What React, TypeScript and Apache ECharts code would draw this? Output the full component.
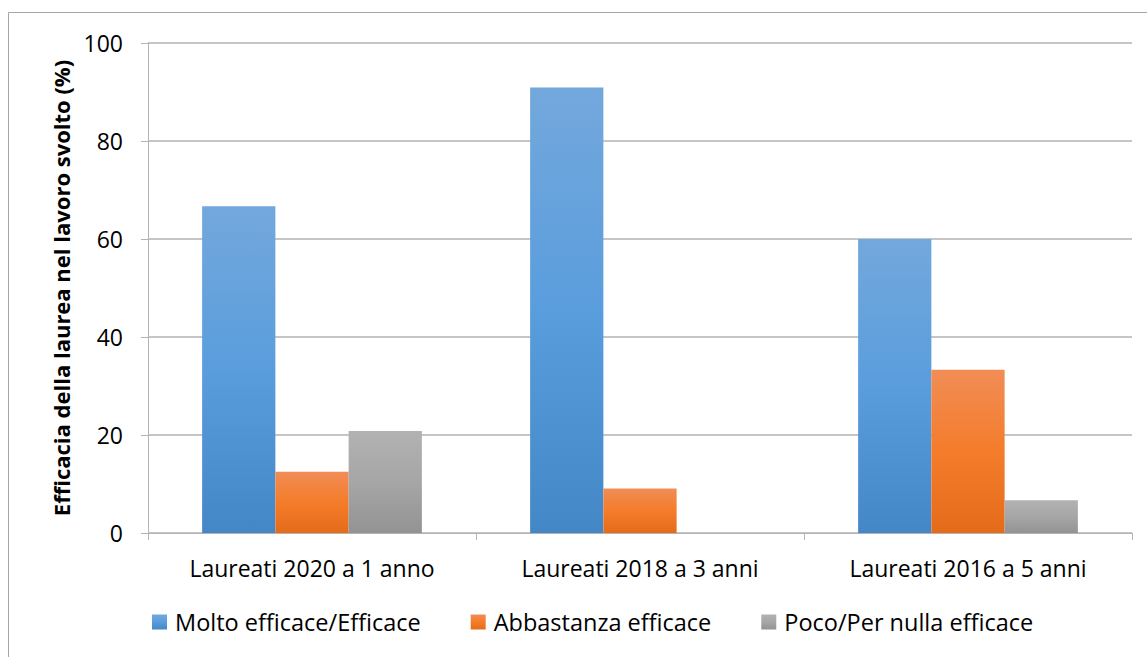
import React, { useEffect, useRef } from "react";
import * as echarts from "echarts";

const categories = ["Laureati 2020 a 1 anno", "Laureati 2018 a 3 anni", "Laureati 2016 a 5 anni"];
const seriesNames = ["Molto efficace/Efficace", "Abbastanza efficace", "Poco/Per nulla efficace"];
const moltoEfficace = [66.7, 90.9, 60.0];
const abbastanzaEfficace = [12.5, 9.1, 33.3];
const pocoEfficace = [20.8, 0, 6.7];
const yTicks = { min: 0, max: 100, interval: 20 };
const yAxisTitle = "Efficacia della laurea nel lavoro svolto (%)";

const FONT = "'Open Sans', sans-serif";

function grad(top: string, mid: string, bottom: string) {
  return new echarts.graphic.LinearGradient(0, 0, 0, 1, [
    { offset: 0, color: top },
    { offset: 0.5, color: mid },
    { offset: 1, color: bottom },
  ]);
}

export default function App() {
  const ref = useRef<HTMLDivElement>(null);
  useEffect(() => {
    if (!ref.current) return;
    const chart = echarts.init(ref.current, null, { renderer: "svg" });
    const gridColor = "#b3b3b3";
    const legendColors = [
      grad("#73a8dc", "#5a9ddd", "#4487c6"),
      grad("#f18d56", "#f47c2a", "#e46b19"),
      grad("#b2b2b2", "#a6a6a6", "#939393"),
    ];
    const values = [moltoEfficace, abbastanzaEfficace, pocoEfficace];
    chart.setOption({
      animation: false,
      backgroundColor: "#ffffff",
      textStyle: { fontFamily: FONT },
      graphic: [
        {
          type: "rect",
          shape: { x: 8.5, y: 12.5, width: 1160, height: 660 },
          style: { fill: "none", stroke: "#a6a6a6", lineWidth: 1 },
          silent: true,
          z: -1,
        },
      ],
      grid: { left: 148, right: 15, top: 43, bottom: 124, containLabel: false },
      legend: {
        left: 147,
        top: 605,
        itemWidth: 15,
        itemHeight: 15,
        itemGap: 50,
        icon: "rect",
        data: seriesNames,
        textStyle: { fontFamily: FONT, fontSize: 23.5, color: "#000000", padding: [0, 0, 0, 3] },
      },
      xAxis: {
        type: "category",
        data: categories,
        axisLine: { show: true, lineStyle: { color: gridColor, width: 1 } },
        axisTick: { show: true, alignWithLabel: false, interval: 0, length: 7, lineStyle: { color: gridColor } },
        axisLabel: { margin: 23, fontFamily: FONT, fontSize: 23, color: "#000000", interval: 0 },
        splitLine: { show: false },
      },
      yAxis: {
        type: "value",
        min: yTicks.min,
        max: yTicks.max,
        interval: yTicks.interval,
        name: yAxisTitle,
        nameLocation: "middle",
        nameGap: 76,
        nameRotate: 90,
        nameTextStyle: { fontFamily: FONT, fontSize: 22, fontWeight: "bold", color: "#000000" },
        axisLine: { show: true, lineStyle: { color: gridColor, width: 1 } },
        axisTick: { show: true, length: 7, lineStyle: { color: gridColor } },
        axisLabel: { margin: 25, fontFamily: FONT, fontSize: 23, color: "#000000" },
        splitLine: { show: true, lineStyle: { color: gridColor, width: 1.5 } },
      },
      series: seriesNames.map((name, i) => ({
        name,
        type: "bar",
        data: values[i],
        barGap: "0%",
        barCategoryGap: "33%",
        itemStyle: { color: legendColors[i] },
      })),
    });
    return () => chart.dispose();
  }, []);
  return (
    <div
      ref={ref}
      style={{ position: "fixed", left: 0, top: 0, width: 1147, height: 657 }}
    />
  );
}
